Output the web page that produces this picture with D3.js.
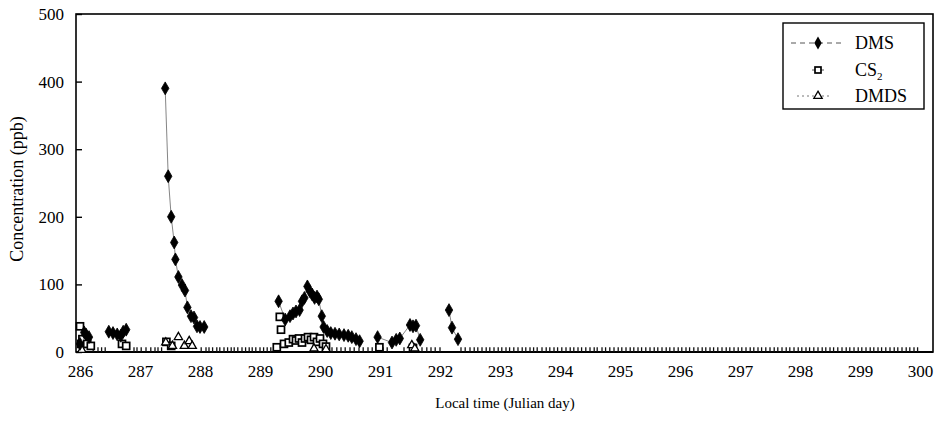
<!DOCTYPE html>
<html>
<head>
<meta charset="utf-8">
<script src="https://cdn.jsdelivr.net/npm/d3@7"></script>
<style>
  html, body { margin: 0; padding: 0; background: #fff; }
  svg text { font-family: "Liberation Serif", "Times New Roman", serif; fill: #000; }
</style>
</head>
<body>
<svg id="chart" width="940" height="422"></svg>
<script>
// ---------- data ----------
const xTicks = [286, 287, 288, 289, 290, 291, 292, 293, 294, 295, 296, 297, 298, 299, 300];
const yTicks = [0, 100, 200, 300, 400, 500];

const dmsDay = [286.0, 286.07, 286.1, 286.15,
  286.48, 286.55, 286.62, 286.68, 286.72, 286.77,
  287.42, 287.47, 287.52, 287.57, 287.59, 287.64, 287.7, 287.75, 287.79, 287.85, 287.9, 287.95, 288.0, 288.07,
  289.31, 289.42, 289.5, 289.55, 289.6, 289.66, 289.7, 289.74, 289.79, 289.83, 289.87, 289.91, 289.95, 289.98,
  290.03, 290.06, 290.12, 290.18, 290.25, 290.32, 290.4, 290.47, 290.53, 290.6, 290.66,
  290.96, 291.2, 291.27, 291.33, 291.5, 291.55, 291.6, 291.67,
  292.15, 292.2, 292.3];
const dmsPpb = [12, 29, 26, 22,
  30, 28, 26, 24, 30, 33,
  390, 260, 200, 162, 137, 111, 99, 91, 66, 53, 51, 38, 37, 37,
  75, 48, 53, 57, 60, 62, 75, 80, 97, 90, 85, 80, 82, 78,
  53, 37, 31, 28, 27, 26, 25, 24, 22, 19, 16,
  22, 14, 18, 20, 40, 38, 39, 18,
  62, 36, 19];

const cs2Day = [286.0, 286.02, 286.04, 286.12, 286.18,
  286.7, 286.77,
  287.44, 287.52,
  289.28, 289.33, 289.35, 289.4, 289.48, 289.55, 289.6, 289.65, 289.7, 289.75, 289.8, 289.85, 289.9, 289.95, 290.0, 290.05, 290.1,
  290.99, 291.55];
const cs2Ppb = [38, 12, 19, 12, 9,
  12, 9,
  15, 9,
  7, 52, 33, 12, 14, 19, 17, 20, 14, 20, 22, 18, 22, 15, 20, 12, 8,
  7, 6];

const dmdsDay = [286.03, 287.43, 287.54, 287.64, 287.74, 287.82, 287.87, 289.9, 290.1, 291.53, 291.58];
const dmdsPpb = [3, 14, 9, 22, 9, 16, 9, 5, 4, 10, 5];

// near-zero readings that form the hatched band along the day axis
const lowDay = [286.22, 286.3, 286.36, 286.42, 286.9, 286.95, 287.02, 287.1, 287.18, 287.25, 287.3, 287.36,
  288.02, 288.1, 288.15, 288.21, 288.28, 288.33, 288.4, 288.46, 288.52, 288.57, 288.63, 288.7, 288.76, 288.82,
  288.87, 288.93, 289.0, 289.06, 289.12, 289.18, 289.23, 290.2, 290.28, 290.35, 290.42, 290.5, 290.57, 290.65,
  290.72, 290.8, 290.87, 291.05, 291.12, 291.4, 291.7, 291.78, 291.85, 291.92, 292.0, 292.35, 292.42, 292.5,
  292.57, 292.63, 292.7, 292.77, 292.83, 292.9, 292.97, 293.03, 293.1, 293.16, 293.23, 293.3, 293.37, 293.43,
  293.5, 293.56, 293.62, 293.7, 293.77, 293.83, 293.9, 293.96, 294.03, 294.1, 294.17, 294.23, 294.3, 294.36,
  294.43, 294.5, 294.57, 294.62, 294.7, 294.76, 294.83, 294.9, 294.97, 295.03, 295.1, 295.17, 295.23, 295.3,
  295.36, 295.43, 295.5, 295.57, 295.63, 295.7, 295.77, 295.83, 295.9, 295.97, 296.03, 296.1, 296.16, 296.23,
  296.3, 296.37, 296.43, 296.5, 296.56, 296.63, 296.7, 296.77, 296.83, 296.9, 296.97, 297.03, 297.1, 297.17,
  297.23, 297.3, 297.36, 297.43, 297.5, 297.57, 297.63, 297.7, 297.77, 297.83, 297.9, 297.97, 298.03, 298.1,
  298.16, 298.23, 298.3, 298.37, 298.43, 298.5, 298.56, 298.63, 298.7, 298.77, 298.83, 298.9, 298.97, 299.03,
  299.1, 299.17, 299.23, 299.3, 299.36, 299.43, 299.5, 299.57, 299.63, 299.7, 299.77, 299.83, 299.9, 299.96];
const lowPpb = 7;

const seriesNames = ["DMS", "CS2", "DMDS"];

// ---------- layout ----------
const frame = { left: 76, right: 933, top: 14, bottom: 352 };
const svg = d3.select("#chart");
const x = d3.scaleLinear().domain([286, 300]).range([80, 920]);
const y = d3.scaleLinear().domain([0, 500]).range([352, 14]);

const zip = (a, b) => a.map((d, i) => ({ t: d, v: b[i] }));
const dms = zip(dmsDay, dmsPpb);
const cs2 = zip(cs2Day, cs2Ppb);
const dmds = zip(dmdsDay, dmdsPpb);

// frame
svg.append("rect")
  .attr("x", frame.left).attr("y", frame.top)
  .attr("width", frame.right - frame.left).attr("height", frame.bottom - frame.top)
  .attr("fill", "none").attr("stroke", "#000").attr("stroke-width", 1.6);
svg.append("line").attr("x1", frame.left).attr("x2", frame.right)
  .attr("y1", frame.bottom).attr("y2", frame.bottom)
  .attr("stroke", "#000").attr("stroke-width", 2.2);

// y axis (ticks inside)
const yAxis = d3.axisLeft(y).tickValues(yTicks).tickSize(-6).tickPadding(12).tickFormat(d3.format("d"));
const gy = svg.append("g").attr("transform", `translate(${frame.left},0)`).call(yAxis);
gy.select(".domain").remove();
gy.selectAll("line").attr("stroke", "#000").attr("stroke-width", 1.4);
gy.selectAll("text").attr("font-size", 17).attr("font-family", "Liberation Serif");

// x axis labels
const xAxis = d3.axisBottom(x).tickValues(xTicks).tickSize(0).tickPadding(13).tickFormat(d3.format("d"));
const gx = svg.append("g").attr("transform", `translate(0,${frame.bottom})`).call(xAxis);
gx.select(".domain").remove();
gx.selectAll("text").attr("font-size", 17).attr("font-family", "Liberation Serif");

// low readings band
svg.append("g").selectAll("line").data(lowDay).join("line")
  .attr("x1", d => x(d)).attr("x2", d => x(d))
  .attr("y1", y(0)).attr("y2", y(lowPpb))
  .attr("stroke", "#111").attr("stroke-width", 1.3);

// DMS connecting lines (broken at gaps)
const segs = [];
dms.forEach((d, i) => {
  if (i === 0 || d.t - dms[i - 1].t > 0.25) segs.push([]);
  segs[segs.length - 1].push(d);
});
const line = d3.line().x(d => x(d.t)).y(d => y(d.v));
svg.append("g").selectAll("path").data(segs).join("path")
  .attr("d", line).attr("fill", "none").attr("stroke", "#666").attr("stroke-width", 0.8);

// CS2 open squares
svg.append("g").selectAll("rect").data(cs2).join("rect")
  .attr("x", d => x(d.t) - 3.5).attr("y", d => y(d.v) - 3.5)
  .attr("width", 7).attr("height", 7)
  .attr("fill", "#fff").attr("stroke", "#000").attr("stroke-width", 1.7);

// DMDS open triangles
const tri = d3.symbol().type(d3.symbolTriangle).size(30);
svg.append("g").selectAll("path").data(dmds).join("path")
  .attr("d", tri).attr("transform", d => `translate(${x(d.t)},${y(d.v)})`)
  .attr("fill", "#fff").attr("stroke", "#000").attr("stroke-width", 1.3);

// DMS filled diamonds
const dia = d3.symbol().type(d3.symbolDiamond).size(48);
svg.append("g").selectAll("path").data(dms).join("path")
  .attr("d", dia).attr("transform", d => `translate(${x(d.t)},${y(d.v)})`)
  .attr("fill", "#000").attr("stroke", "#000").attr("stroke-width", 0.8);

// axis titles
svg.append("text").attr("x", 505).attr("y", 408).attr("text-anchor", "middle")
  .attr("font-size", 15).text("Local time (Julian day)");
svg.append("text").attr("transform", "translate(23,189) rotate(-90)").attr("text-anchor", "middle")
  .attr("font-size", 18).text("Concentration (ppb)");

// legend
const lg = svg.append("g").attr("transform", "translate(783,23)");
lg.append("rect").attr("width", 141).attr("height", 86)
  .attr("fill", "#fff").attr("stroke", "#000").attr("stroke-width", 1.4);
const rows = [20, 47, 73];
// DMS
lg.append("line").attr("x1", 8).attr("x2", 62).attr("y1", rows[0]).attr("y2", rows[0])
  .attr("stroke", "#555").attr("stroke-width", 1).attr("stroke-dasharray", "5,4");
lg.append("path").attr("d", dia).attr("transform", `translate(35,${rows[0]})`).attr("fill", "#000");
// CS2
lg.append("line").attr("x1", 29).attr("x2", 41).attr("y1", rows[1]).attr("y2", rows[1])
  .attr("stroke", "#555").attr("stroke-width", 1);
lg.append("rect").attr("x", 32).attr("y", rows[1] - 3).attr("width", 6).attr("height", 6)
  .attr("fill", "#fff").attr("stroke", "#000").attr("stroke-width", 1.7);
// DMDS
lg.append("line").attr("x1", 14).attr("x2", 46).attr("y1", rows[2]).attr("y2", rows[2])
  .attr("stroke", "#777").attr("stroke-width", 1).attr("stroke-dasharray", "2,3");
lg.append("path").attr("d", tri).attr("transform", `translate(35,${rows[2]})`)
  .attr("fill", "#fff").attr("stroke", "#000").attr("stroke-width", 1.3);

lg.append("text").attr("x", 72).attr("y", rows[0] + 6).attr("font-size", 18).text(seriesNames[0]);
const cs = lg.append("text").attr("x", 72).attr("y", rows[1] + 6).attr("font-size", 18);
cs.append("tspan").text("CS");
cs.append("tspan").attr("font-size", 11).attr("dy", 4).text("2");
lg.append("text").attr("x", 72).attr("y", rows[2] + 6).attr("font-size", 18).text(seriesNames[2]);
</script>
</body>
</html>
